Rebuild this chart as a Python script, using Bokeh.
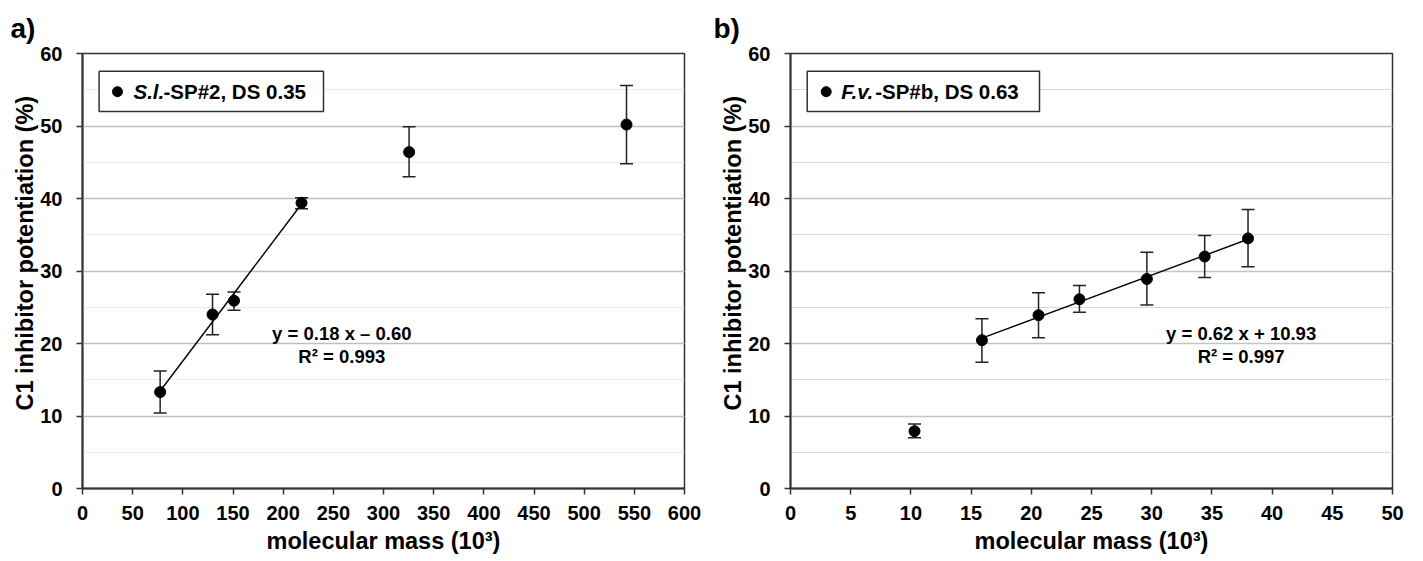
import numpy as np
from bokeh.plotting import figure
from bokeh.models import (Range1d, SingleIntervalTicker, Whisker, TeeHead,
                          ColumnDataSource, Label, Title)
from bokeh.layouts import row
from bokeh.embed import file_html
from bokeh.resources import INLINE

# ---------------- data ----------------
mass_a = [77.4, 129.6, 151.0, 218.3, 325.5, 542.2]
pot_a = [13.3, 24.0, 25.9, 39.4, 46.4, 50.2]
upper_a = [16.2, 26.8, 27.1, 40.1, 49.9, 55.6]
lower_a = [10.4, 21.2, 24.6, 38.6, 43.0, 44.8]
fit_a = [0, 1, 2, 3]

mass_b = [10.3, 15.9, 20.6, 24.0, 29.6, 34.4, 38.0]
pot_b = [7.9, 20.45, 23.9, 26.1, 28.9, 32.0, 34.5]
upper_b = [8.9, 23.4, 27.0, 28.0, 32.6, 34.9, 38.5]
lower_b = [7.0, 17.4, 20.8, 24.3, 25.3, 29.1, 30.6]
fit_b = [1, 2, 3, 4, 5, 6]

legend_a = ["S.l.", "-SP#2, DS 0.35"]
legend_b = ["F.v.", "-SP#b, DS 0.63"]
eq_a = ["y = 0.18 x \u2013 0.60", "R\u00b2 = 0.993"]
eq_b = ["y = 0.62 x + 10.93", "R\u00b2 = 0.997"]
panel_letters = ["a)", "b)"]
x_title = "molecular mass (10\u00b3)"
y_title = "C1 inhibitor potentiation (%)"

# ---------------- layout / style ----------------
FONT = "Liberation Sans"
H = 561
TOP = 53
BOTTOM = 73
FRAME_W = 602
FRAME_H = H - TOP - BOTTOM
YMAX = 60
AX_COL = "#333333"


def make_panel(width, left, xmax, xstep, mass, pot, upper, lower, fit_idx,
               legend, eq, letter, leg_box, leg_mark, leg_text, italic_w,
               eq_x, letter_off, major_col, minor_col):
    p = figure(width=width, height=H, output_backend="svg", toolbar_location=None,
               x_range=Range1d(0, xmax), y_range=Range1d(0, YMAX),
               min_border_left=left, min_border_right=width - left - FRAME_W,
               min_border_top=TOP, min_border_bottom=BOTTOM)
    p.background_fill_color = "white"
    p.border_fill_color = "white"
    p.outline_line_color = AX_COL
    p.outline_line_width = 1.5

    def dx(off):
        return xmax * off / FRAME_W

    def dy(off_top):
        return YMAX * (FRAME_H - off_top) / FRAME_H

    # axes
    p.xaxis.ticker = SingleIntervalTicker(interval=xstep, num_minor_ticks=0)
    p.yaxis.ticker = SingleIntervalTicker(interval=10, num_minor_ticks=2)
    for ax in (p.xaxis[0], p.yaxis[0]):
        ax.axis_line_color = AX_COL
        ax.axis_line_width = 2
        ax.major_tick_line_color = AX_COL
        ax.major_tick_line_width = 1.5
        ax.major_tick_out = 6
        ax.major_tick_in = 0
        ax.minor_tick_line_color = None
        ax.major_label_text_font = FONT
        ax.major_label_text_font_style = "bold"
        ax.major_label_text_font_size = "20px"
        ax.major_label_text_color = "black"
    p.yaxis.major_label_standoff = 14
    p.xaxis.major_label_standoff = 11
    p.xaxis.axis_label = x_title
    p.xaxis.axis_label_text_font = FONT
    p.xaxis.axis_label_text_font_style = "bold"
    p.xaxis.axis_label_text_font_size = "23.5px"
    p.xaxis.axis_label_text_color = "black"
    p.xaxis.axis_label_standoff = 5

    p.xgrid.grid_line_color = None
    p.ygrid.grid_line_color = major_col
    p.ygrid.grid_line_width = 1.5
    p.ygrid.minor_grid_line_color = minor_col
    p.ygrid.minor_grid_line_width = 1.2

    # y-axis title as a side title, placed along the left edge
    p.add_layout(Title(text=y_title, align="left", offset=78, standoff=0,
                       text_font=FONT, text_font_size="23.5px",
                       text_font_style="bold", text_color="black"), "left")
    # panel letter as a title above the frame
    p.add_layout(Title(text=letter, align="left", offset=letter_off, standoff=20,
                       text_font=FONT, text_font_size="28px",
                       text_font_style="bold", text_color="black"), "above")

    # legend box (glyph level, so the marker can sit on top)
    p.quad(left=[dx(leg_box[0])], right=[dx(leg_box[1])],
           top=[dy(leg_box[2])], bottom=[dy(leg_box[3])],
           fill_color="white", line_color=AX_COL, line_width=1.5)

    # trend line from fitted points
    fx = np.array([mass[i] for i in fit_idx])
    fy = np.array([pot[i] for i in fit_idx])
    k, b0 = np.polyfit(fx, fy, 1)
    xs = np.array([fx.min(), fx.max()])
    p.line(xs, k * xs + b0, line_color="black", line_width=1.4)

    src = ColumnDataSource(dict(x=mass, y=pot, up=upper, lo=lower))
    wh = Whisker(source=src, base="x", upper="up", lower="lo",
                 line_color="#222222", line_width=1.5,
                 upper_head=TeeHead(size=13, line_color="#222222", line_width=1.5),
                 lower_head=TeeHead(size=13, line_color="#222222", line_width=1.5))
    p.add_layout(wh)
    p.scatter("x", "y", source=src, size=11, fill_color="black", line_color="black")

    # legend marker and text
    p.scatter([dx(leg_mark[0])], [dy(leg_mark[1])], size=10,
              fill_color="black", line_color="black")
    common = dict(text_font=FONT, text_font_size="20.5px", text_color="black",
                  text_baseline="middle")
    p.add_layout(Label(x=dx(leg_text[0]), y=dy(leg_text[1]), text=legend[0],
                       text_font_style="bold italic", **common))
    p.add_layout(Label(x=dx(leg_text[0]), y=dy(leg_text[1]), x_offset=italic_w,
                       text=legend[1], text_font_style="bold", **common))

    # equation
    eqc = dict(text_font=FONT, text_font_size="18.5px", text_font_style="bold",
               text_color="black", text_align="center", text_baseline="middle")
    p.add_layout(Label(x=dx(eq_x), y=dy(280.3), text=eq[0], **eqc))
    p.add_layout(Label(x=dx(eq_x), y=dy(303.4), text=eq[1], **eqc))
    return p


pa = make_panel(708, 82, 600, 50, mass_a, pot_a, upper_a, lower_a, fit_a,
                legend_a, eq_a, panel_letters[0],
                leg_box=(16.6, 241.0, 17.7, 58.0), leg_mark=(35.0, 38.2),
                leg_text=(51.0, 38.2), italic_w=30, eq_x=259.3,
                letter_off=-72, major_col="#bfbfbf", minor_col="#ebebeb")
pb = make_panel(715, 82, 50, 5, mass_b, pot_b, upper_b, lower_b, fit_b,
                legend_b, eq_b, panel_letters[1],
                leg_box=(16.7, 249.0, 17.7, 58.0), leg_mark=(35.7, 38.2),
                leg_text=(50.7, 38.2), italic_w=34, eq_x=450.6,
                letter_off=-77, major_col="#c4c4c4", minor_col="#d9d9d9")

layout = row(pa, pb)
open("out.html", "w").write(file_html(layout, INLINE))
